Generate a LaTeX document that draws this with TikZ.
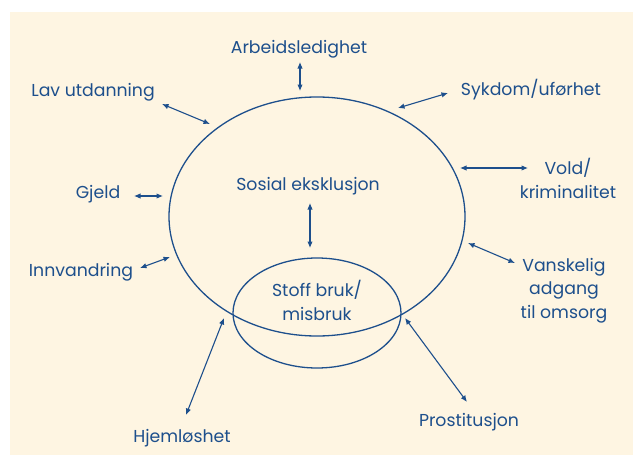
\documentclass[tikz,border=0pt]{standalone}
\usepackage{fontspec}
\setmainfont{Poppins}
\usetikzlibrary{arrows.meta,shapes.geometric}
\definecolor{cream}{HTML}{FEF5E2}
\definecolor{navy}{HTML}{1D4F8C}
\begin{document}
\begin{tikzpicture}[x=1pt,y=-1pt,
  lbl/.style={text=navy,font=\fontsize{17.3}{23.5}\selectfont,align=center,inner sep=0pt,anchor=base},
  link/.style={draw=navy,line width=1.1pt,{Latex[length=6.5pt,width=5.5pt]}-{Latex[length=6.5pt,width=5.5pt]}},
  ring/.style={draw=navy,line width=1.3pt,ellipse,inner sep=0pt}]
\useasboundingbox (0,0) rectangle (633,455);
\fill[cream] (10,12) rectangle (633,455);
% ellipses
\node[ring,minimum width=296pt,minimum height=239pt] (big) at (317,216.5) {};
\node[ring,minimum width=168pt,minimum height=110pt] (small) at (317,313) {};
% labels (multi-line labels: base is the last line)
\node[lbl] (arb) at (299,53) {Arbeidsledighet};
\node[lbl] (lav) at (93,96) {Lav utdanning};
\node[lbl] (syk) at (531,95) {Sykdom/uførhet};
\node[lbl] (gje) at (98,198) {Gjeld};
\node[lbl] (sos) at (308,190) {Sosial eksklusjon};
\node[lbl] (inn) at (81,276) {Innvandring};
\node[lbl] (vol) at (568,198) {Vold/\\kriminalitet};
\node[lbl] (van) at (564,318) {Vanskelig\\adgang\\til omsorg};
\node[lbl] (sto) at (317,320) {Stoff bruk/\\misbruk};
\node[lbl] (hje) at (182,442) {Hjemløshet};
\node[lbl] (pro) at (469,426) {Prostitusjon};
% arrow endpoints
\coordinate (a1) at (300,62);  \coordinate (a2) at (300,91);
\coordinate (l1) at (162,104); \coordinate (l2) at (210,124);
\coordinate (s1) at (398,108); \coordinate (s2) at (448,93);
\coordinate (g1) at (134,196); \coordinate (g2) at (163,196);
\coordinate (o1) at (310,203); \coordinate (o2) at (310,248);
\coordinate (v1) at (460,168); \coordinate (v2) at (528,168);
\coordinate (k1) at (468,243); \coordinate (k2) at (515,263);
\coordinate (i1) at (140,268); \coordinate (i2) at (170,257);
\coordinate (h1) at (186,415); \coordinate (h2) at (224,318);
\coordinate (p1) at (405,318); \coordinate (p2) at (467,402);
\draw[link] (a1) -- (a2);
\draw[link] (l1) -- (l2);
\draw[link] (s1) -- (s2);
\draw[link] (g1) -- (g2);
\draw[link] (o1) -- (o2);
\draw[link] (v1) -- (v2);
\draw[link] (k1) -- (k2);
\draw[link] (i1) -- (i2);
\draw[link] (h1) -- (h2);
\draw[link] (p1) -- (p2);
\end{tikzpicture}
\end{document}
